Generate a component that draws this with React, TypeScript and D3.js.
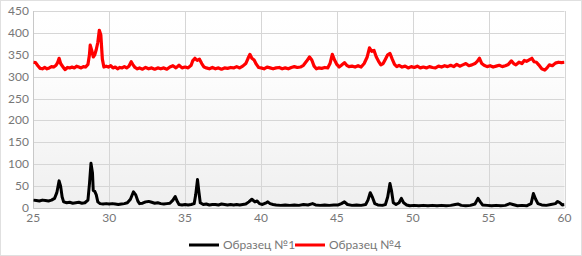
import React from "react";
import * as d3 from "d3";

const xTicks = [25, 30, 35, 40, 45, 50, 55, 60];
const yTicks = [0, 50, 100, 150, 200, 250, 300, 350, 400, 450];
const seriesNames = ["Образец №1", "Образец №4"];
const seriesColors = ["#000000", "#ff0000"];

const sample1X = [25.0,25.2,25.4,25.6,25.8,26.0,26.2,26.4,26.55,26.7,26.8,26.9,27.0,27.2,27.4,27.6,27.8,28.0,28.2,28.4,28.6,28.7,28.8,28.9,28.95,29.05,29.15,29.25,29.4,29.6,29.8,30.0,30.2,30.4,30.6,30.8,31.0,31.2,31.4,31.6,31.75,31.9,32.0,32.2,32.4,32.6,32.8,33.0,33.2,33.4,33.6,33.8,34.0,34.2,34.35,34.5,34.6,34.8,35.0,35.2,35.4,35.6,35.7,35.82,35.9,36.0,36.2,36.4,36.6,36.8,37.0,37.2,37.4,37.6,37.8,38.0,38.2,38.4,38.6,38.8,39.0,39.2,39.4,39.6,39.75,39.9,40.1,40.3,40.45,40.6,40.8,41.0,41.3,41.6,41.9,42.2,42.5,42.8,43.1,43.4,43.6,43.9,44.2,44.5,44.8,45.1,45.3,45.5,45.7,46.0,46.3,46.6,46.9,47.05,47.2,47.35,47.5,47.7,48.0,48.2,48.35,48.5,48.6,48.72,48.9,49.1,49.25,49.4,49.6,49.8,50.1,50.4,50.7,51.0,51.3,51.6,51.9,52.2,52.5,52.8,53.0,53.2,53.5,53.8,54.1,54.3,54.45,54.6,54.9,55.2,55.5,55.8,56.1,56.4,56.6,56.9,57.2,57.5,57.8,57.95,58.1,58.25,58.5,58.8,59.1,59.4,59.55,59.7,59.85,60.0];
const sample1Y = [18,17,16,18,17,16,18,22,35,62,50,25,14,12,13,11,12,13,11,12,18,55,102,80,40,38,30,14,10,9,10,9,10,9,8,9,10,12,20,37,30,15,10,11,14,15,13,11,12,10,9,10,11,18,26,14,8,7,8,7,8,10,30,65,40,12,8,9,7,8,8,7,9,8,7,8,7,8,7,8,9,14,20,14,16,10,8,11,14,10,8,7,6,7,6,7,6,8,7,10,7,6,7,6,7,7,10,14,8,6,7,6,8,18,35,24,10,7,6,8,25,56,40,12,8,12,22,12,7,5,6,5,6,5,6,5,6,5,6,8,9,6,5,6,9,22,14,7,6,5,6,5,6,10,8,5,6,5,10,33,20,10,7,6,8,10,15,12,7,8];

const sample4X = [25.0,25.15,25.3,25.45,25.6,25.75,25.9,26.05,26.2,26.35,26.5,26.6,26.7,26.8,26.9,27.0,27.1,27.25,27.4,27.55,27.7,27.85,28.0,28.15,28.3,28.45,28.6,28.7,28.75,28.85,28.95,29.05,29.15,29.25,29.35,29.45,29.55,29.65,29.8,29.95,30.1,30.25,30.4,30.55,30.7,30.85,31.0,31.15,31.3,31.45,31.55,31.7,31.85,32.0,32.2,32.4,32.6,32.8,33.0,33.2,33.4,33.6,33.8,34.0,34.2,34.4,34.6,34.8,35.0,35.2,35.4,35.5,35.65,35.8,35.95,36.1,36.25,36.4,36.6,36.8,37.0,37.2,37.4,37.6,37.8,38.0,38.2,38.4,38.6,38.8,39.0,39.15,39.27,39.4,39.55,39.7,39.85,40.0,40.2,40.4,40.6,40.8,41.0,41.2,41.4,41.6,41.8,42.0,42.2,42.4,42.6,42.8,43.0,43.2,43.35,43.5,43.65,43.8,44.0,44.2,44.4,44.55,44.7,44.85,45.0,45.15,45.3,45.5,45.65,45.8,46.0,46.2,46.4,46.6,46.8,47.0,47.15,47.3,47.45,47.6,47.75,47.9,48.05,48.2,48.35,48.5,48.65,48.8,48.95,49.1,49.3,49.5,49.7,49.9,50.1,50.3,50.5,50.7,50.9,51.1,51.3,51.5,51.7,51.9,52.1,52.3,52.5,52.7,52.9,53.1,53.3,53.5,53.7,53.9,54.1,54.25,54.4,54.55,54.7,54.9,55.1,55.3,55.5,55.7,55.9,56.1,56.3,56.5,56.65,56.8,57.0,57.2,57.35,57.5,57.7,57.85,58.0,58.15,58.3,58.5,58.7,58.85,59.0,59.2,59.4,59.6,59.8,60.0];
const sample4Y = [333,332,325,319,318,321,318,320,323,322,326,332,342,330,325,320,316,321,320,322,320,324,322,320,323,322,328,350,372,360,345,350,362,378,406,395,340,322,324,322,325,320,322,318,321,320,323,320,324,334,328,321,318,320,317,321,318,320,317,320,318,320,317,322,325,320,326,320,322,320,326,336,342,337,340,330,322,320,318,321,318,320,317,320,319,321,320,323,320,324,330,342,351,342,338,328,321,320,318,322,320,318,320,321,318,320,318,321,323,321,322,326,335,345,338,324,318,320,319,321,320,330,351,338,328,322,326,332,326,323,324,322,325,322,330,345,366,358,360,345,335,327,330,340,350,353,340,328,323,326,322,324,320,323,321,324,320,322,320,323,321,320,324,322,325,323,326,323,328,324,327,330,325,327,330,335,342,330,326,323,325,322,324,326,323,325,328,336,330,327,333,330,337,335,339,342,334,333,327,318,315,320,327,325,331,333,332,333];

const W = 582;
const H = 256;
const left = 33.3;
const right = 564.5;
const top = 11;
const bottom = 208;

export default function App() {
  const x = d3.scaleLinear().domain([25, 60]).range([left, right]);
  const y = d3.scaleLinear().domain([0, 450]).range([bottom, top]);
  const line = d3
    .line<[number, number]>()
    .x((d) => x(d[0]))
    .y((d) => y(d[1]));
  const s1 = sample1X.map((v, i) => [v, sample1Y[i]] as [number, number]);
  const s4 = sample4X.map((v, i) => [v, sample4Y[i]] as [number, number]);
  const font = "Lato, 'Open Sans', sans-serif";
  const legend = [
    { x0: 189, name: seriesNames[0], color: seriesColors[0] },
    { x0: 295, name: seriesNames[1], color: seriesColors[1] },
  ];
  return (
    <svg
      width={W}
      height={H}
      style={{ position: "absolute", left: 0, top: 0, display: "block" }}
      fontFamily={font}
    >
      <defs>
        <linearGradient id="bg" x1="0" y1="0" x2="0" y2="1">
          <stop offset="0" stopColor="#ffffff" />
          <stop offset="0.3" stopColor="#fdfdfd" />
          <stop offset="1" stopColor="#efefef" />
        </linearGradient>
        <clipPath id="clip">
          <rect x={left} y={top - 5} width={right - left} height={bottom - top + 5} />
        </clipPath>
      </defs>
      <rect x={0} y={0} width={W} height={H} fill="#ffffff" />
      <rect x={0.5} y={0.5} width={W - 1} height={H - 1} fill="none" stroke="#e0e0e0" />
      <rect x={left} y={top} width={right - left} height={bottom - top} fill="url(#bg)" />
      {yTicks.map((t) => (
        <line key={"gy" + t} x1={left} x2={right} y1={Math.round(y(t)) + 0.5} y2={Math.round(y(t)) + 0.5} stroke="#d6d6d6" />
      ))}
      {xTicks.map((t) => (
        <line key={"gx" + t} y1={top} y2={bottom} x1={Math.round(x(t)) + 0.5} x2={Math.round(x(t)) + 0.5} stroke="#d6d6d6" />
      ))}
      <line x1={Math.round(left) + 0.5} x2={Math.round(left) + 0.5} y1={top} y2={bottom} stroke="#c8c8c8" />
      <line x1={left} x2={right} y1={Math.round(bottom) + 0.5} y2={Math.round(bottom) + 0.5} stroke="#c8c8c8" />
      <g clipPath="url(#clip)">
        <path d={line(s4) || ""} fill="none" stroke={seriesColors[1]} strokeWidth={3.2} strokeLinejoin="round" />
        <path d={line(s1) || ""} fill="none" stroke={seriesColors[0]} strokeWidth={3} strokeLinejoin="round" />
      </g>
      {yTicks.map((t) => (
        <text key={"ty" + t} x={29} y={y(t) + 4} textAnchor="end" fontSize={12} fill="#777">
          {t}
        </text>
      ))}
      {xTicks.map((t) => (
        <text key={"tx" + t} x={x(t)} y={221.5} textAnchor="middle" fontSize={12} fill="#777">
          {t}
        </text>
      ))}
      {legend.map((l) => (
        <g key={l.name}>
          <line x1={l.x0} x2={l.x0 + 30} y1={245} y2={245} stroke={l.color} strokeWidth={3} />
          <text x={l.x0 + 34} y={249} fontSize={12} fill="#777">
            {l.name}
          </text>
        </g>
      ))}
    </svg>
  );
}
